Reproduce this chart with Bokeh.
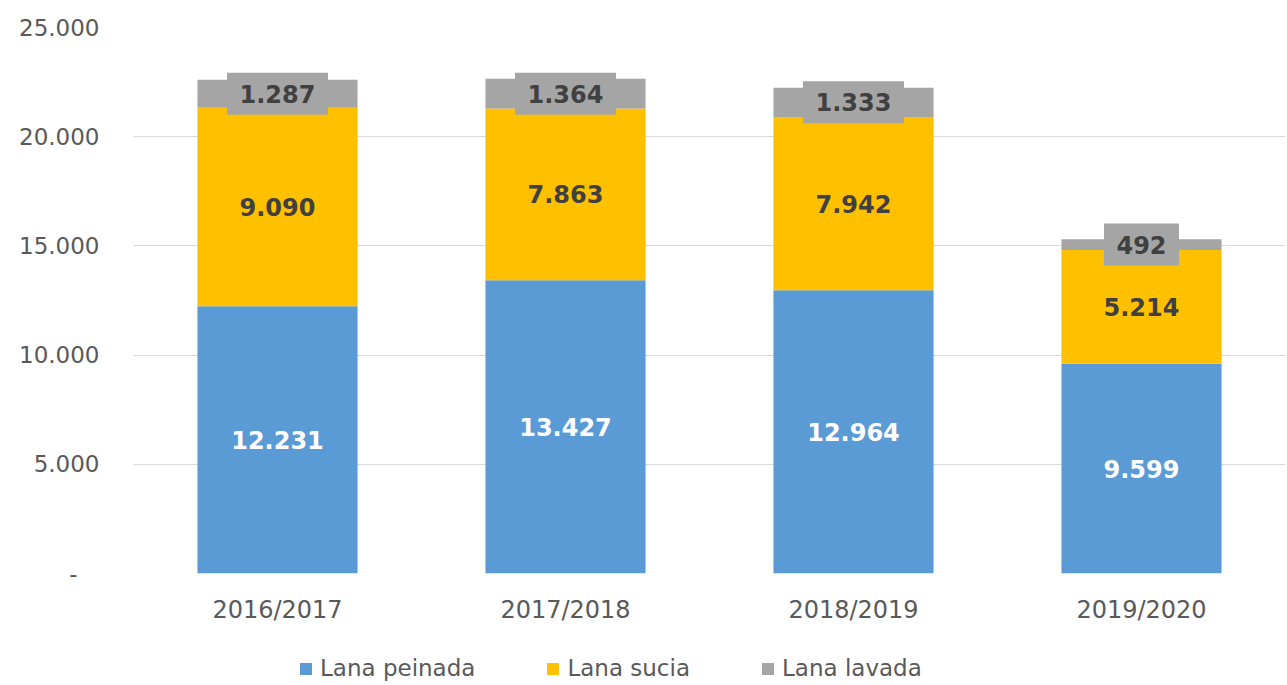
from bokeh.plotting import figure
from bokeh.layouts import column
from bokeh.models import (ColumnDataSource, FactorRange, Range1d, FixedTicker,
                          CustomJSTickFormatter, Legend, LegendItem)
from bokeh.core.properties import value
from bokeh.embed import file_html
from bokeh.resources import INLINE

seasons = ["2016/2017", "2017/2018", "2018/2019", "2019/2020"]
lana_peinada = [12231, 13427, 12964, 9599]
lana_sucia = [9090, 7863, 7942, 5214]
lana_lavada = [1287, 1364, 1333, 492]
series_names = ["Lana peinada", "Lana sucia", "Lana lavada"]
colors = ["#5B9BD5", "#FFC000", "#A5A5A5"]
y_ticks = [0, 5000, 10000, 15000, 20000, 25000]

FONT = "DejaVu Sans"


def fmt(v):
    return f"{v:,}".replace(",", ".")


src = ColumnDataSource(dict(season=seasons, peinada=lana_peinada,
                            sucia=lana_sucia, lavada=lana_lavada))

p = figure(x_range=FactorRange(*seasons, range_padding=0),
           y_range=Range1d(0, 25000),
           frame_width=1152, frame_height=546,
           output_backend="svg", toolbar_location=None,
           min_border_left=133, min_border_right=0, min_border_top=27,
           min_border_bottom=76)
p.outline_line_color = None
p.background_fill_color = "white"

rs = p.vbar_stack(["peinada", "sucia", "lavada"], x="season", width=0.556,
                  color=colors, line_color=None, source=src)

# label positions
c1 = [a / 2 for a in lana_peinada]
c2 = [a + b / 2 for a, b in zip(lana_peinada, lana_sucia)]
c3 = [a + b + c / 2 for a, b, c in zip(lana_peinada, lana_sucia, lana_lavada)]
t3 = [fmt(v) for v in lana_lavada]
box_w = [len(s.replace(".", "")) * 17 + 9 * s.count(".") + 24 for s in t3]

p.rect(x=seasons, y=c3, width=box_w, height=42, width_units="screen",
       height_units="screen", fill_color="#A5A5A5", line_color=None)

common = dict(text_font=value(FONT), text_font_style="bold",
              text_align="center", text_baseline="middle", text_font_size="24px")
p.text(x=seasons, y=c1, text=[fmt(v) for v in lana_peinada],
       text_color="white", **common)
p.text(x=seasons, y=c2, text=[fmt(v) for v in lana_sucia],
       text_color="#404040", **common)
p.text(x=seasons, y=c3, text=t3, text_color="#404040", **common)

# axes
p.yaxis.ticker = FixedTicker(ticks=y_ticks)
p.yaxis.formatter = CustomJSTickFormatter(code="""
    if (tick == 0) { return "-\u00a0\u00a0\u00a0"; }
    return tick.toString().replace(/\\B(?=(\\d{3})+(?!\\d))/g, ".");
""")
for ax in (p.xaxis[0], p.yaxis[0]):
    ax.axis_line_color = None
    ax.major_tick_line_color = None
    ax.minor_tick_line_color = None
    ax.major_label_text_font = FONT
    ax.major_label_text_color = "#595959"
p.yaxis.major_label_text_font_size = "23px"
p.yaxis.major_label_standoff = 28
p.xaxis.major_label_text_font_size = "24px"
p.xaxis.major_label_standoff = 16

p.xgrid.grid_line_color = None
p.ygrid.ticker = FixedTicker(ticks=y_ticks)
p.ygrid.grid_line_color = "#D9D9D9"
p.ygrid.grid_line_width = 1

# legend strip below the chart: same stacked series, scrolled far out of view
q = figure(x_range=FactorRange(*seasons, range_padding=0),
           y_range=Range1d(1e9, 2e9), width=1285, height=34,
           output_backend="svg", toolbar_location=None,
           x_axis_location=None, y_axis_location=None, min_border=0)
q.outline_line_color = None
q.grid.grid_line_color = None
qs = q.vbar_stack(["peinada", "sucia", "lavada"], x="season", width=0.556,
                  color=colors, line_color=None, source=src)
legend = Legend(items=[LegendItem(label=n, renderers=[r])
                       for n, r in zip(series_names, qs)],
                orientation="horizontal", location=(165, 2),
                label_text_font=FONT, label_text_font_size="23px",
                label_text_color="#595959", glyph_width=15, glyph_height=15,
                label_standoff=7, spacing=70, padding=2, margin=0,
                border_line_color=None, background_fill_alpha=0)
q.add_layout(legend, "center")

open("out.html", "w").write(file_html(column(p, q, spacing=0), INLINE))
